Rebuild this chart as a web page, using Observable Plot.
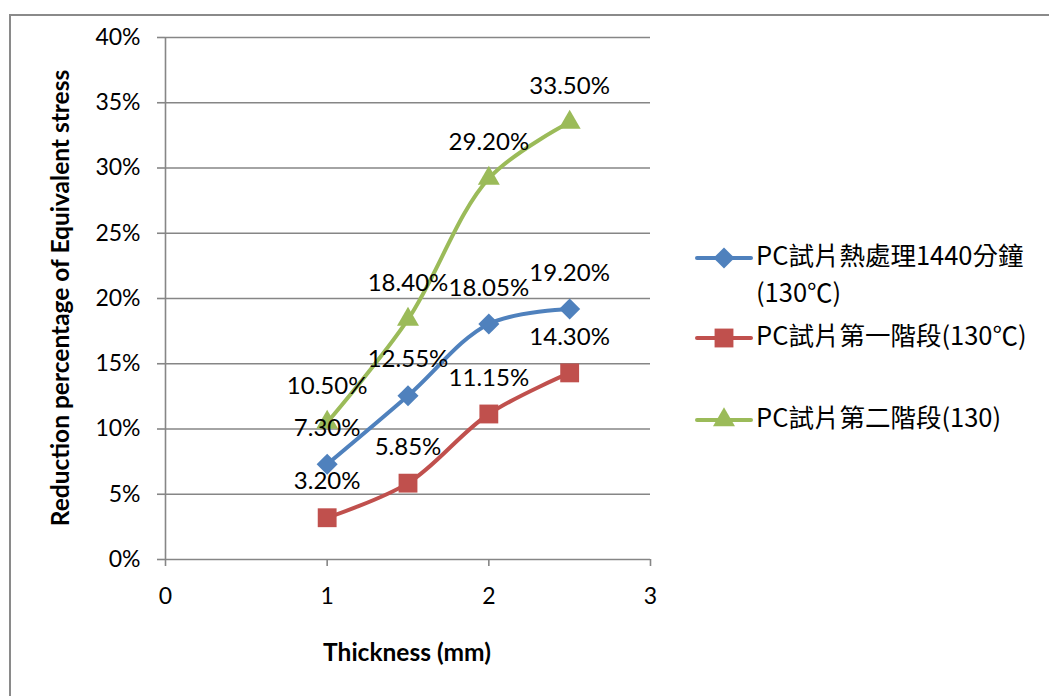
<!DOCTYPE html>
<html>
<head>
<meta charset="utf-8">
<script src="https://cdn.jsdelivr.net/npm/d3@7"></script>
<script src="https://cdn.jsdelivr.net/npm/@observablehq/plot@0.6"></script>
<style>
  html, body { margin: 0; padding: 0; background: #fff; }
  #wrap { position: relative; width: 1049px; height: 696px; overflow: hidden; }
  #frame { position: absolute; left: 9px; top: 14px; width: 1100px; height: 800px; border: 2px solid #8a8a8a; box-sizing: border-box; }
  #chart { position: absolute; left: 0; top: 0; }
  #overlay { position: absolute; left: 0; top: 0; }
</style>
</head>
<body>
<div id="wrap">
  <div id="frame"></div>
  <div id="chart"></div>
  <svg id="overlay" width="1049" height="696"></svg>
</div>
<script>
// ---- data ----
const thickness = [1, 1.5, 2, 2.5];
const seriesNames = ["PC試片熱處理1440分鐘(130℃)", "PC試片第一階段(130℃)", "PC試片第二階段(130)"];
const legendLines = [["PC試片熱處理1440分鐘", "(130℃)"], ["PC試片第一階段(130℃)"], ["PC試片第二階段(130)"]];
const series1440 = [7.30, 12.55, 18.05, 19.20];
const seriesStage1 = [3.20, 5.85, 11.15, 14.30];
const seriesStage2 = [10.50, 18.40, 29.20, 33.50];
const labels1440 = ["7.30%", "12.55%", "18.05%", "19.20%"];
const labelsStage1 = ["3.20%", "5.85%", "11.15%", "14.30%"];
const labelsStage2 = ["10.50%", "18.40%", "29.20%", "33.50%"];
const yTicks = [0, 5, 10, 15, 20, 25, 30, 35, 40];
const xTicks = [0, 1, 2, 3];
const colors = ["#4F81BD", "#C0504D", "#9BBB59"];
const symbols = ["diamond2", "square2", "triangle2"];
const sizes = [9.5, 12, 10.5];

const allValues = [series1440, seriesStage1, seriesStage2];
const allLabels = [labels1440, labelsStage1, labelsStage2];
const rows = allValues.map((vals, s) => vals.map((v, i) => ({x: thickness[i], y: v, label: allLabels[s][i], series: seriesNames[s]})));

const font = "Lato, 'Noto Sans CJK TC', sans-serif";

const marks = [
  Plot.ruleY(yTicks, {stroke: "#868686", strokeWidth: 1.6}),
  Plot.ruleX([0], {stroke: "#868686", strokeWidth: 1.6}),
  Plot.axisY({ticks: yTicks, tickFormat: d => d + "%", tickSize: 8, tickPadding: 17, stroke: "#868686", strokeWidth: 1.6, fill: "#000", label: null, fontSize: 23}),
  Plot.axisX({ticks: xTicks, tickFormat: d => String(d), tickSize: 7, tickPadding: 21, stroke: "#868686", strokeWidth: 1.6, fill: "#000", label: null, fontSize: 23}),
];
rows.forEach((data, s) => {
  marks.push(Plot.line(data, {x: "x", y: "y", stroke: colors[s], strokeWidth: 4, curve: "catmull-rom"}));
});
rows.forEach((data, s) => {
  marks.push(Plot.dot(data, {x: "x", y: "y", symbol: () => symbols[s], fill: colors[s], r: sizes[s], stroke: "none"}));
});
rows.forEach((data, s) => {
  marks.push(Plot.text(data, {x: "x", y: "y", text: "label", dy: -36, fill: "#000", fontSize: 24}));
});

const chart = Plot.plot({
  width: 1049,
  height: 696,
  marginLeft: 165,
  marginRight: 399,
  marginTop: 37,
  marginBottom: 137,
  x: {domain: [0, 3], axis: null},
  y: {domain: [0, 40], axis: null},
  symbol: {type: "identity"},
  style: {fontFamily: font, fontSize: "23px", background: "transparent", overflow: "visible", color: "#000"},
  marks
});
document.getElementById("chart").appendChild(chart);

// ---- overlay: axis titles and legend ----
const svg = d3.select("#overlay").style("font-family", font);
svg.append("text")
  .attr("transform", "translate(63,298) rotate(-90)")
  .attr("text-anchor", "middle").attr("dominant-baseline", "middle")
  .attr("font-weight", "bold").attr("font-size", 24.5)
  .text("Reduction percentage of Equivalent stress");
svg.append("text")
  .attr("x", 407).attr("y", 655)
  .attr("text-anchor", "middle").attr("dominant-baseline", "middle")
  .attr("font-weight", "bold").attr("font-size", 24.5)
  .text("Thickness (mm)");

const legendY = [258, 338, 420];
const symbolMap = {diamond2: d3.symbolDiamond2, square2: d3.symbolSquare2, triangle2: d3.symbolTriangle2};
legendLines.forEach((lines, s) => {
  const g = svg.append("g");
  const y = legendY[s];
  g.append("line").attr("x1", 697).attr("x2", 751).attr("y1", y).attr("y2", y)
    .attr("stroke", colors[s]).attr("stroke-width", 4).attr("stroke-linecap", "round");
  g.append("path").attr("transform", `translate(724,${y})`)
    .attr("d", d3.symbol(symbolMap[symbols[s]], sizes[s] * sizes[s] * Math.PI)())
    .attr("fill", colors[s]);
  lines.forEach((t, k) => {
    g.append("text").attr("x", 756).attr("y", y + k * 37)
      .attr("dominant-baseline", "middle").attr("font-size", 25.5).attr("fill", "#000")
      .style("font-family", "'Noto Sans CJK TC', sans-serif")
      .text(t);
  });
});
</script>
</body>
</html>
